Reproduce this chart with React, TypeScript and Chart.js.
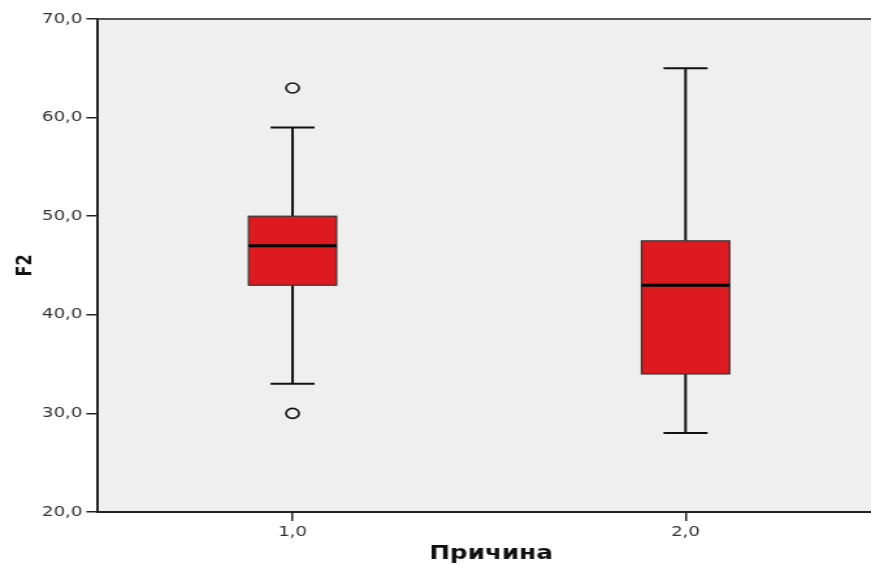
import React, { useEffect, useRef } from 'react';
import { Chart, registerables } from 'chart.js';

Chart.register(...registerables);

// ---- data ----
const categories = [1, 2];
const whiskerLow = [33, 28];
const q1 = [43, 34];
const median = [47, 43];
const q3 = [50, 47.5];
const whiskerHigh = [59, 65];
const outlierCategory = [1, 1];
const outlierValue = [63, 30];
const yTickValues = [20, 30, 40, 50, 60, 70];
const xTitle = 'Причина';
const yTitle = 'F2';

// ---- layout / style ----
const STRETCH = 1.3;
const W = 680;
const H = 565;
const BOX_HALF = 0.112;
const CAP_HALF = 0.056;
const FONT = "'DejaVu Sans', sans-serif";

const fmt = (v: number) => v.toFixed(1).replace('.', ',');

const boxPlugin = {
  id: 'boxes',
  beforeDraw(chart: any) {
    const { ctx, chartArea: a } = chart;
    ctx.save();
    ctx.fillStyle = '#efefef';
    ctx.fillRect(a.left, a.top, a.right - a.left, a.bottom - a.top);
    ctx.restore();
  },
  beforeDatasetsDraw(chart: any) {
    const { ctx, chartArea: a } = chart;
    const xs = chart.scales.x;
    const ys = chart.scales.y;
    ctx.save();
    // frame
    ctx.strokeStyle = '#555';
    ctx.lineWidth = 2;
    ctx.beginPath();
    ctx.moveTo(a.left, a.top);
    ctx.lineTo(a.right, a.top);
    ctx.stroke();

    categories.forEach((c, i) => {
      const cx = xs.getPixelForValue(c);
      const bl = xs.getPixelForValue(c - BOX_HALF);
      const br = xs.getPixelForValue(c + BOX_HALF);
      const cl = xs.getPixelForValue(c - CAP_HALF);
      const cr = xs.getPixelForValue(c + CAP_HALF);
      const yLo = ys.getPixelForValue(whiskerLow[i]);
      const yQ1 = ys.getPixelForValue(q1[i]);
      const yMed = ys.getPixelForValue(median[i]);
      const yQ3 = ys.getPixelForValue(q3[i]);
      const yHi = ys.getPixelForValue(whiskerHigh[i]);

      ctx.strokeStyle = '#111';
      ctx.lineWidth = 2;
      ctx.beginPath();
      ctx.moveTo(cx, yHi);
      ctx.lineTo(cx, yQ3);
      ctx.moveTo(cx, yQ1);
      ctx.lineTo(cx, yLo);
      ctx.moveTo(cl, yHi);
      ctx.lineTo(cr, yHi);
      ctx.moveTo(cl, yLo);
      ctx.lineTo(cr, yLo);
      ctx.stroke();

      ctx.fillStyle = '#dc1a1f';
      ctx.fillRect(bl, yQ3, br - bl, yQ1 - yQ3);
      ctx.strokeStyle = '#333';
      ctx.lineWidth = 1.2;
      ctx.strokeRect(bl, yQ3, br - bl, yQ1 - yQ3);

      ctx.strokeStyle = '#000';
      ctx.lineWidth = 3;
      ctx.beginPath();
      ctx.moveTo(bl, yMed);
      ctx.lineTo(br, yMed);
      ctx.stroke();
    });
    ctx.restore();
  },
};

export default function App() {
  const ref = useRef<HTMLCanvasElement | null>(null);

  useEffect(() => {
    if (!ref.current) return;
    const chart = new Chart(ref.current, {
      type: 'scatter',
      data: {
        datasets: [
          {
            label: 'outliers',
            data: outlierCategory.map((c, i) => ({ x: c, y: outlierValue[i] })),
            pointRadius: 5,
            pointBorderWidth: 1.6,
            pointBackgroundColor: 'rgba(0,0,0,0)',
            pointBorderColor: '#111',
          },
        ],
      },
      options: {
        animation: false,
        responsive: false,
        events: [],
        layout: { autoPadding: false, padding: { top: 19, right: 0, left: 0, bottom: 0 } },
        plugins: { legend: { display: false }, tooltip: { enabled: false } },
        scales: {
          x: {
            type: 'linear',
            min: 0.505,
            max: 2.505,
            afterBuildTicks: (scale: any) => {
              scale.ticks = categories.map((v) => ({ value: v }));
            },
            afterFit: (scale: any) => {
              scale.height = 53;
              scale.paddingLeft = 0;
              scale.paddingRight = 0;
            },
            ticks: {
              callback: (v: any) => fmt(Number(v)),
              color: '#333',
              font: { family: FONT, size: 14 },
              padding: 3,
              maxRotation: 0,
            },
            grid: {
              drawOnChartArea: false,
              drawTicks: true,
              tickLength: 9,
              color: '#222',
              lineWidth: 1.5,
            },
            border: { display: true, color: '#222', width: 2 },
            title: {
              display: true,
              text: xTitle,
              color: '#111',
              font: { family: FONT, size: 19, weight: 'bold', lineHeight: 1.2 },
              padding: { top: 0, bottom: 0 },
            },
          },
          y: {
            type: 'linear',
            min: 20,
            max: 70,
            afterBuildTicks: (scale: any) => {
              scale.ticks = yTickValues.map((v) => ({ value: v }));
            },
            afterFit: (scale: any) => {
              scale.width = 75.4;
              scale.paddingTop = 0;
              scale.paddingBottom = 0;
            },
            ticks: {
              callback: (v: any) => fmt(Number(v)),
              color: '#333',
              font: { family: FONT, size: 14 },
              padding: 3,
            },
            grid: {
              drawOnChartArea: false,
              drawTicks: true,
              tickLength: 9,
              color: '#222',
              lineWidth: 1.5,
            },
            border: { display: true, color: '#222', width: 2 },
            title: {
              display: true,
              text: yTitle,
              color: '#111',
              font: { family: FONT, size: 16, weight: 'bold', lineHeight: 1.2 },
              padding: { top: 10, bottom: 0 },
            },
          },
        },
      },
      plugins: [boxPlugin],
    } as any);
    return () => chart.destroy();
  }, []);

  return (
    <div
      style={{
        position: 'fixed',
        left: 0,
        top: 0,
        width: 871,
        height: 565,
        overflow: 'hidden',
        background: '#fff',
      }}
    >
      <div style={{ width: W, height: H, transform: `scaleX(${STRETCH})`, transformOrigin: '0 0' }}>
        <canvas ref={ref} width={W} height={H} style={{ width: W, height: H, display: 'block' }} />
      </div>
    </div>
  );
}
